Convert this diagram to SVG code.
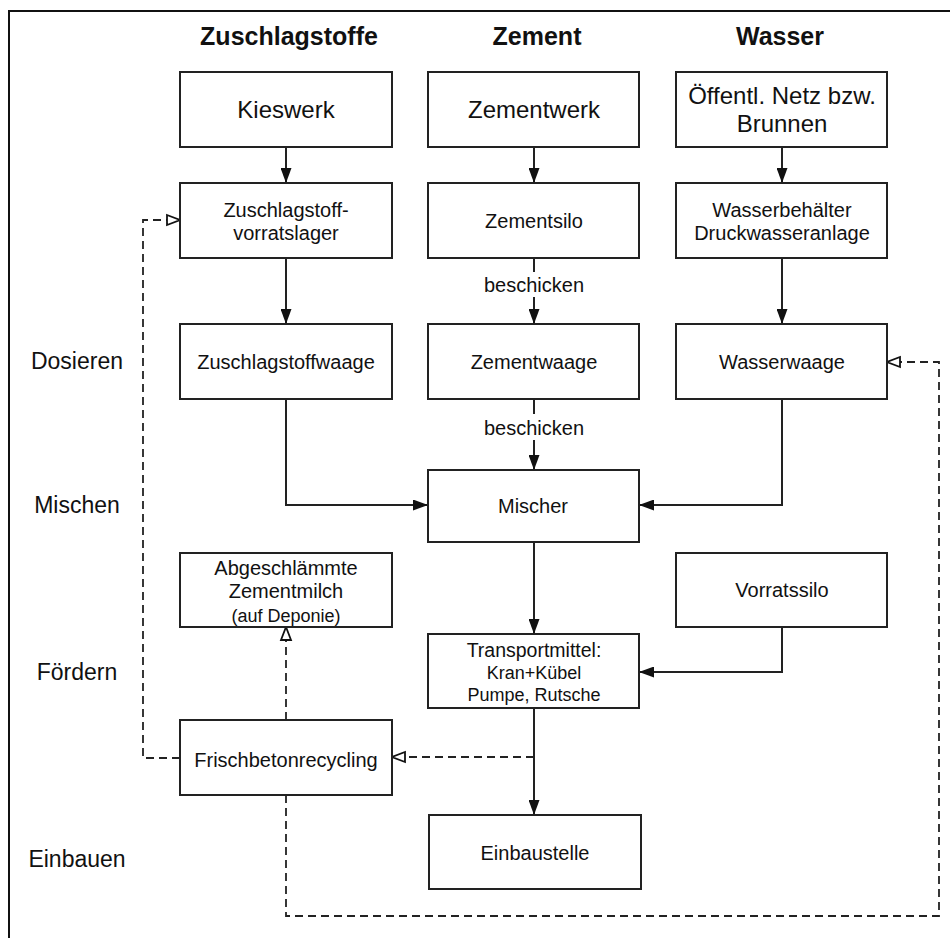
<svg xmlns="http://www.w3.org/2000/svg" width="950" height="938" viewBox="0 0 950 938">
  <style>
    text { font-family: "Liberation Sans", Arial, Helvetica, sans-serif; fill: #111; text-anchor: middle; }
    .title { font-size: 25px; font-weight: bold; }
    .big { font-size: 24px; }
    .mid { font-size: 20px; }
    .small { font-size: 18px; }
    .stage { font-size: 23px; }
    .box { fill: #fff; stroke: #222; stroke-width: 2; }
    .flow { fill: none; stroke: #222; stroke-width: 2; }
    .solid { marker-end: url(#arrow); }
    .back { fill: none; stroke: #222; stroke-width: 1.8; stroke-dasharray: 8 5; marker-end: url(#open); }
  </style>
  <defs>
    <marker id="arrow" viewBox="0 0 15 11" refX="15" refY="5.5" markerWidth="15" markerHeight="11" markerUnits="userSpaceOnUse" orient="auto">
      <path d="M0,0 L15,5.5 L0,11 z" fill="#111"/>
    </marker>
    <marker id="open" viewBox="-2 -2 17 14" refX="13" refY="5" markerWidth="17" markerHeight="14" markerUnits="userSpaceOnUse" orient="auto">
      <path d="M0,0 L13,5 L0,10 z" fill="#fff" stroke="#111" stroke-width="1.8" stroke-linejoin="miter"/>
    </marker>
  </defs>

  <!-- frame -->
  <path d="M9,938 V11 H950" fill="none" stroke="#111" stroke-width="2"/>

  <!-- column headings -->
  <g id="headings">
    <text class="title" x="289" y="45">Zuschlagstoffe</text>
    <text class="title" x="537" y="45">Zement</text>
    <text class="title" x="780" y="45">Wasser</text>
  </g>

  <!-- process stages -->
  <g id="stages">
    <text class="stage" x="77" y="369">Dosieren</text>
    <text class="stage" x="77" y="513">Mischen</text>
    <text class="stage" x="77" y="680">Fördern</text>
    <text class="stage" x="77" y="867">Einbauen</text>
  </g>

  <!-- connectors -->
  <g id="connectors">
    <path class="flow solid" d="M286,147 V183"/>
    <path class="flow solid" d="M534,147 V183"/>
    <path class="flow solid" d="M782,147 V183"/>
    <path class="flow solid" d="M286,258 V324"/>
    <path class="flow" d="M534,258 V272"/>
    <path class="flow solid" d="M534,297 V324"/>
    <text class="mid" x="534" y="292">beschicken</text>
    <path class="flow solid" d="M782,258 V324"/>
    <path class="flow solid" d="M286,399 V505 H428"/>
    <path class="flow" d="M534,399 V414"/>
    <path class="flow solid" d="M534,440 V470"/>
    <text class="mid" x="534" y="435">beschicken</text>
    <path class="flow solid" d="M782,399 V505 H639"/>
    <path class="flow solid" d="M534,542 V634"/>
    <path class="flow solid" d="M782,627 V672 H639"/>
    <path class="flow solid" d="M534,708 V815"/>
    <path class="back" d="M534,757 H392"/>
    <path class="back" d="M286,720 V627"/>
    <path class="back" d="M180,758 H143 V220 H180"/>
    <path class="back" d="M286,795 V916 H939 V362 H887"/>
  </g>

  <g id="kieswerk">
    <rect class="box" x="180" y="72" width="212" height="75"/>
    <text class="big" x="286" y="118">Kieswerk</text>
  </g>
  <g id="zementwerk">
    <rect class="box" x="428" y="72" width="211" height="75"/>
    <text class="big" x="534" y="118">Zementwerk</text>
  </g>
  <g id="netz">
    <rect class="box" x="676" y="72" width="211" height="75"/>
    <text class="big" x="782" y="104">Öffentl. Netz bzw.</text>
    <text class="big" x="782" y="132">Brunnen</text>
  </g>

  <g id="vorratslager">
    <rect class="box" x="180" y="183" width="212" height="75"/>
    <text class="mid" x="286" y="217">Zuschlagstoff-</text>
    <text class="mid" x="286" y="240">vorratslager</text>
  </g>
  <g id="zementsilo">
    <rect class="box" x="428" y="183" width="211" height="75"/>
    <text class="mid" x="534" y="228">Zementsilo</text>
  </g>
  <g id="wasserbehaelter">
    <rect class="box" x="676" y="183" width="211" height="75"/>
    <text class="mid" x="782" y="217">Wasserbehälter</text>
    <text class="mid" x="782" y="240">Druckwasseranlage</text>
  </g>

  <g id="zuschlagstoffwaage">
    <rect class="box" x="180" y="324" width="212" height="75"/>
    <text class="mid" x="286" y="369">Zuschlagstoffwaage</text>
  </g>
  <g id="zementwaage">
    <rect class="box" x="428" y="324" width="211" height="75"/>
    <text class="mid" x="534" y="369">Zementwaage</text>
  </g>
  <g id="wasserwaage">
    <rect class="box" x="676" y="324" width="211" height="75"/>
    <text class="mid" x="782" y="369">Wasserwaage</text>
  </g>

  <g id="mischer">
    <rect class="box" x="428" y="470" width="211" height="72"/>
    <text class="mid" x="533" y="513">Mischer</text>
  </g>

  <g id="zementmilch">
    <rect class="box" x="180" y="553" width="212" height="74"/>
    <text class="mid" x="286" y="575">Abgeschlämmte</text>
    <text class="mid" x="286" y="598">Zementmilch</text>
    <text class="small" x="286" y="622">(auf Deponie)</text>
  </g>
  <g id="vorratssilo">
    <rect class="box" x="676" y="553" width="211" height="74"/>
    <text class="mid" x="782" y="597">Vorratssilo</text>
  </g>

  <g id="transportmittel">
    <rect class="box" x="428" y="634" width="211" height="74"/>
    <text class="mid" x="534" y="657" style="font-size:19.5px">Transportmittel:</text>
    <text class="small" x="534" y="679">Kran+Kübel</text>
    <text class="small" x="534" y="701">Pumpe, Rutsche</text>
  </g>

  <g id="frischbetonrecycling">
    <rect class="box" x="180" y="720" width="212" height="75"/>
    <text class="mid" x="286" y="767">Frischbetonrecycling</text>
  </g>

  <g id="einbaustelle">
    <rect class="box" x="429" y="815" width="212" height="74"/>
    <text class="mid" x="535" y="860">Einbaustelle</text>
  </g>
</svg>
